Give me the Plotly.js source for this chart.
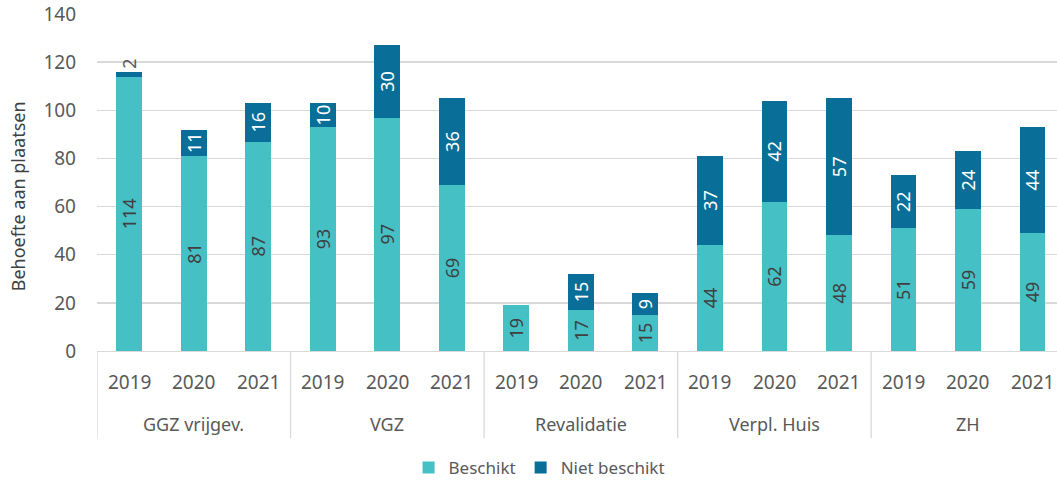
<!DOCTYPE html>
<html>
<head>
<meta charset="utf-8">
<script src="https://cdn.plot.ly/plotly-3.0.1.min.js"></script>
<style>html,body{margin:0;padding:0;background:#fff}#chart{width:1057px;height:486px}</style>
</head>
<body>
<div id="chart"></div>
<script>
const groups = ["GGZ vrijgev.", "VGZ", "Revalidatie", "Verpl. Huis", "ZH"];
const years = ["2019", "2020", "2021"];
const beschikt = [114, 81, 87, 93, 97, 69, 19, 17, 15, 44, 62, 48, 51, 59, 49];
const nietBeschikt = [2, 11, 16, 10, 30, 36, 0, 15, 9, 37, 42, 57, 22, 24, 44];

// category keys: one per bar (group + year)
const cats = [];
groups.forEach(g => years.forEach(y => cats.push(g + " " + y)));

const font = "Noto Sans, Open Sans, sans-serif";
const grey = "#595959";
const lineCol = "#d9d9d9";

const t1 = {
  type: "bar", name: "Beschikt", x: cats, y: beschikt,
  marker: {color: "#45C1C6"},
  text: beschikt.map(String), textposition: "inside", insidetextanchor: "middle",
  textangle: -90, constraintext: "none",
  textfont: {family: font, size: 18, color: "#404040"},
  hoverinfo: "none"
};
const t2 = {
  type: "bar", name: "Niet beschikt", x: cats, y: nietBeschikt,
  marker: {color: "#0A6F98"},
  text: nietBeschikt.map(v => v > 0 ? String(v) : ""),
  textposition: nietBeschikt.map(v => v < 5 ? "outside" : "inside"),
  insidetextanchor: "middle", textangle: -90, constraintext: "none",
  insidetextfont: {family: font, size: 18, color: "#ffffff"},
  outsidetextfont: {family: font, size: 18, color: grey},
  cliponaxis: false,
  hoverinfo: "none"
};

// axis labels (years and group names) and group dividers
const plotH = 337;                 // plot height in px (t=14, b=135)
const pxToPaper = px => -px / plotH;
const annotations = [];
const shapes = [];
groups.forEach((g, gi) => {
  years.forEach((y, yi) => {
    annotations.push({
      text: y, xref: "x", x: cats[gi * years.length + yi],
      yref: "paper", y: pxToPaper(31), yanchor: "middle", xanchor: "center",
      showarrow: false, font: {family: font, size: 19, color: grey}
    });
  });
  annotations.push({
    text: g, xref: "x", x: cats[gi * years.length + 1],
    yref: "paper", y: pxToPaper(73), yanchor: "middle", xanchor: "center",
    showarrow: false, font: {family: font, size: 18, color: grey}
  });
});
for (let i = 0; i <= groups.length; i++) {
  const xPos = i * years.length - 0.5;
  shapes.push({
    type: "line", xref: "x", x0: xPos, x1: xPos,
    yref: "paper", y0: 0, y1: pxToPaper(87),
    line: {color: lineCol, width: 1.3}
  });
}
annotations.push({
  text: "Behoefte aan plaatsen", textangle: -90,
  xref: "paper", x: -0.082, xanchor: "center",
  yref: "paper", y: 0.46, yanchor: "middle",
  showarrow: false, font: {family: font, size: 18, color: "#404040"}
});

const layout = {
  width: 1057, height: 486,
  margin: {l: 97, r: 0, t: 14, b: 135},
  barmode: "stack", bargap: 0.6,
  paper_bgcolor: "#fff", plot_bgcolor: "#fff",
  font: {family: font, size: 16, color: grey},
  showlegend: true,
  legend: {orientation: "h", xref: "container", x: 0.51, xanchor: "center",
           yref: "container", y: 0.0, yanchor: "bottom",
           font: {family: font, size: 17, color: grey}, traceorder: "normal",
           itemwidth: 30},
  xaxis: {
    type: "category", range: [-0.5, 14.38],
    showticklabels: false, ticks: "",
    showline: true, linecolor: lineCol, linewidth: 1.3,
    showgrid: false
  },
  yaxis: {
    range: [0, 140], dtick: 20, showgrid: true, gridcolor: lineCol, gridwidth: 1.3,
    zeroline: false, ticks: "", ticklen: 0, ticklabelstandoff: 20,
    tickfont: {family: font, size: 19, color: grey}
  },
  annotations: annotations,
  shapes: shapes
};

Plotly.newPlot("chart", [t1, t2], layout, {displayModeBar: false, staticPlot: true});
</script>
</body>
</html>
